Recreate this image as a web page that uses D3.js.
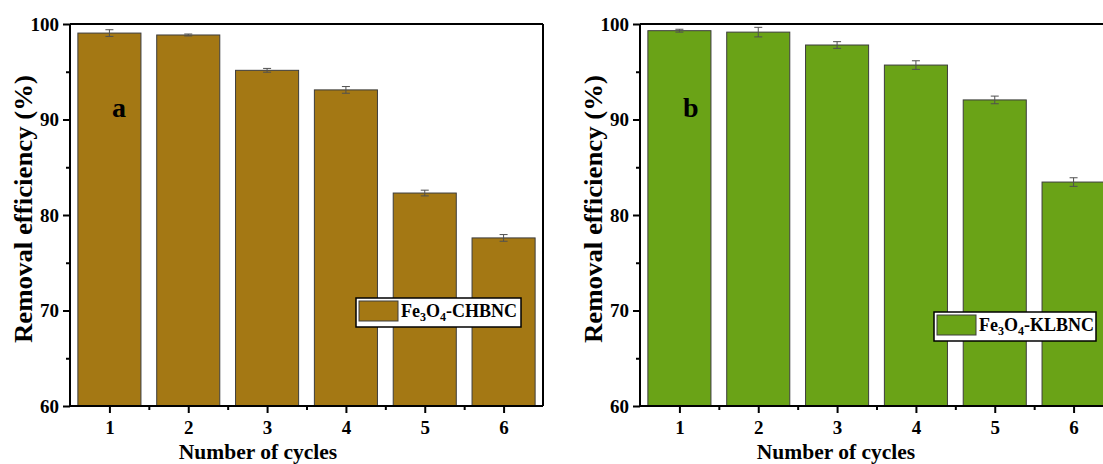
<!DOCTYPE html>
<html>
<head>
<meta charset="utf-8">
<script src="https://cdn.jsdelivr.net/npm/d3@7"></script>
<style>
  html, body { margin: 0; padding: 0; background: #fff; }
  svg { display: block; }
  text { font-family: "Liberation Serif", "Times New Roman", serif; font-weight: bold; fill: #000; }
</style>
</head>
<body>
<svg id="chart" width="1103" height="464"></svg>
<script>
// Recycling performance of the two magnetic nanocomposites
const cycles = [1, 2, 3, 4, 5, 6];
const removalCHBNC = [99.05, 98.85, 95.15, 93.1, 82.3, 77.6];
const errorCHBNC = [0.35, 0.1, 0.2, 0.35, 0.3, 0.35];
const removalKLBNC = [99.3, 99.15, 97.8, 95.7, 92.05, 83.45];
const errorKLBNC = [0.15, 0.5, 0.35, 0.45, 0.4, 0.45];
const yTicks = [60, 70, 80, 90, 100];
const yMinorTicks = [65, 75, 85, 95];
const xMinorTicks = [1.5, 2.5, 3.5, 4.5, 5.5];

const svg = d3.select("#chart");

function drawPanel(cfg) {
  const x = d3.scaleLinear().domain([0.5, 6.5]).range([cfg.left, cfg.left + 473]);
  const y = d3.scaleLinear().domain([60, 100]).range([406, 24]);
  const g = svg.append("g");
  const bw = x(0.8) - x(0);

  // bars
  g.selectAll("rect.bar").data(cycles).join("rect")
    .attr("class", "bar")
    .attr("x", (d) => x(d) - bw / 2)
    .attr("y", (d, i) => y(cfg.values[i]))
    .attr("width", bw)
    .attr("height", (d, i) => y(60) - y(cfg.values[i]))
    .attr("fill", cfg.color)
    .attr("stroke", "#3c3c3c")
    .attr("stroke-width", 1);

  // error bars
  const eb = g.selectAll("g.err").data(cycles).join("g").attr("class", "err")
    .attr("stroke", "#505050").attr("stroke-width", 1);
  eb.append("line")
    .attr("x1", (d) => x(d)).attr("x2", (d) => x(d))
    .attr("y1", (d, i) => y(cfg.values[i] - cfg.errors[i]))
    .attr("y2", (d, i) => y(cfg.values[i] + cfg.errors[i]));
  eb.append("line")
    .attr("x1", (d) => x(d) - 4).attr("x2", (d) => x(d) + 4)
    .attr("y1", (d, i) => y(cfg.values[i] + cfg.errors[i]))
    .attr("y2", (d, i) => y(cfg.values[i] + cfg.errors[i]));
  eb.append("line")
    .attr("x1", (d) => x(d) - 4).attr("x2", (d) => x(d) + 4)
    .attr("y1", (d, i) => y(cfg.values[i] - cfg.errors[i]))
    .attr("y2", (d, i) => y(cfg.values[i] - cfg.errors[i]));

  // frame (top and right)
  g.append("line").attr("x1", x(0.5)).attr("x2", x(6.5)).attr("y1", y(100)).attr("y2", y(100))
    .attr("stroke", "#000").attr("stroke-width", 2);
  g.append("line").attr("x1", x(6.5)).attr("x2", x(6.5)).attr("y1", y(100)).attr("y2", y(60))
    .attr("stroke", "#000").attr("stroke-width", 2);

  // y axis
  const yAxis = g.append("g").attr("transform", `translate(${x(0.5)},0)`)
    .call(d3.axisLeft(y).tickValues(yTicks).tickSize(7).tickPadding(4).tickFormat(d3.format("d")));
  g.append("g").attr("transform", `translate(${x(0.5)},0)`)
    .call(d3.axisLeft(y).tickValues(yMinorTicks).tickSize(4).tickFormat(""))
    .call((s) => s.select(".domain").remove());

  // x axis
  const xAxis = g.append("g").attr("transform", `translate(0,${y(60)})`)
    .call(d3.axisBottom(x).tickValues(cycles).tickSize(7).tickPadding(8).tickFormat(d3.format("d")));
  g.append("g").attr("transform", `translate(0,${y(60)})`)
    .call(d3.axisBottom(x).tickValues(xMinorTicks).tickSize(4).tickFormat(""))
    .call((s) => s.select(".domain").remove());

  g.selectAll(".domain").attr("stroke", "#000").attr("stroke-width", 2);
  g.selectAll(".tick line").attr("stroke", "#000").attr("stroke-width", 2);
  g.selectAll(".tick text")
    .attr("font-family", "Liberation Serif, Times New Roman, serif")
    .attr("font-weight", "bold").attr("font-size", 19).attr("fill", "#000");
  xAxis.selectAll(".domain").attr("d", `M${x(0.5)},0H${x(6.5)}`);
  yAxis.selectAll(".domain").attr("d", `M0,${y(60)}V${y(100)}`);

  // axis titles
  g.append("text")
    .attr("transform", `translate(${cfg.left - 38},209) rotate(-90)`)
    .attr("text-anchor", "middle")
    .attr("font-size", 26)
    .attr("textLength", 268)
    .attr("lengthAdjust", "spacingAndGlyphs")
    .text("Removal efficiency (%)");
  g.append("text")
    .attr("x", cfg.xTitleCenter).attr("y", 459)
    .attr("text-anchor", "middle")
    .attr("font-size", 21.5)
    .text("Number of cycles");

  // panel letter
  g.append("text").attr("x", cfg.letterX).attr("y", 117)
    .attr("font-size", 28).text(cfg.letter);

  // legend
  const lg = g.append("g").attr("transform", `translate(${cfg.legend[0]},${cfg.legend[1]})`);
  lg.append("rect").attr("x", 0).attr("y", 0).attr("width", cfg.legendW).attr("height", 29)
    .attr("fill", "#fff").attr("stroke", "#000").attr("stroke-width", 1.5);
  lg.append("rect").attr("x", 3).attr("y", 3).attr("width", 39).attr("height", 20)
    .attr("fill", cfg.color).attr("stroke", "#3c3c3c").attr("stroke-width", 1);
  const t = lg.append("text").attr("x", 45).attr("y", 19).attr("font-size", 18);
  t.append("tspan").text("Fe");
  t.append("tspan").attr("font-size", 12).attr("dy", 4).text("3");
  t.append("tspan").attr("dy", -4).text("O");
  t.append("tspan").attr("font-size", 12).attr("dy", 4).text("4");
  t.append("tspan").attr("dy", -4).text("-" + cfg.name);
}

drawPanel({
  left: 70, values: removalCHBNC, errors: errorCHBNC, color: "#a47814",
  letter: "a", letterX: 112, name: "CHBNC", legend: [356, 298], legendW: 165,
  xTitleCenter: 258
});
drawPanel({
  left: 640, values: removalKLBNC, errors: errorKLBNC, color: "#6aa317",
  letter: "b", letterX: 683, name: "KLBNC", legend: [934, 312], legendW: 162,
  xTitleCenter: 836
});
</script>
</body>
</html>
